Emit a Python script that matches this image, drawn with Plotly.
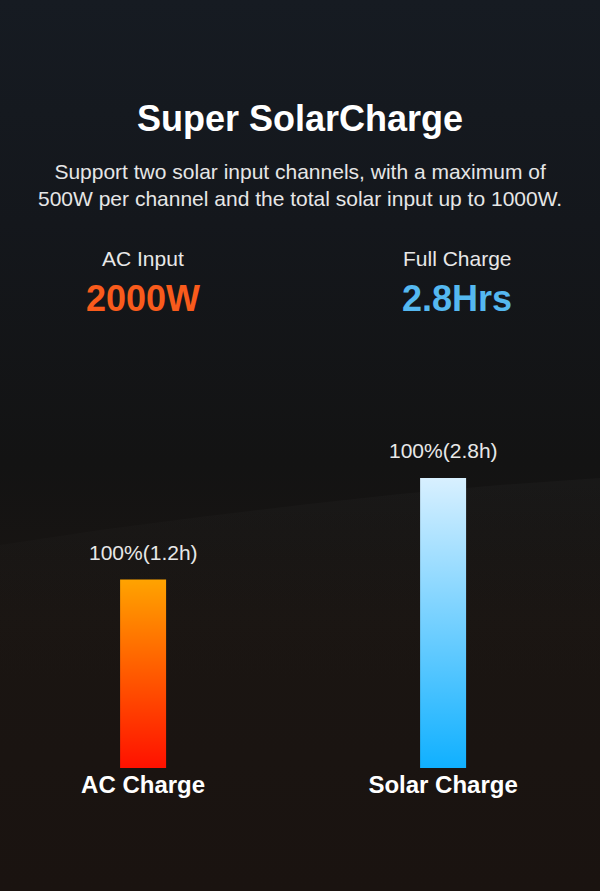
import plotly.graph_objects as go

W, H = 600, 891

# chart data
categories = ["AC Charge", "Solar Charge"]
bar_heights = [65, 100]                      # relative height, solar bar = 100
bar_labels = ["100%(1.2h)", "100%(2.8h)"]
bar_colors = [("#ff1100", "#ffa300"),        # bottom, top
              ("#10b0ff", "#d8f0ff")]

stat_names = ["AC Input", "Full Charge"]
stat_values = ["2000W", "2.8Hrs"]
stat_colors = ["#f95b1c", "#55b8f0"]

title = "Super SolarCharge"
subtitle = ("Support two solar input channels, with a maximum of<br>"
            "500W per channel and the total solar input up to 1000W.")

FONT = "Liberation Sans, Arial, sans-serif"


def py(px):
    # pixel row from top -> paper fraction
    return 1 - px / H


fig = go.Figure()

# background: vertical gradient over the whole page
fig.add_trace(go.Scatter(
    x=[0, 1, 1, 0, 0], y=[0, 0, 1, 1, 0],
    fill="toself", mode="lines", line=dict(width=0),
    fillgradient=dict(type="vertical", colorscale=[
        [0, "#1a1310"], [0.3, "#1a1512"], [0.48, "#131313"],
        [0.75, "#14171c"], [1, "#161b22"]]),
    hoverinfo="skip", showlegend=False))

# faint lighter hill behind the bars
arc_x = [0, 1/6, 2/6, 3/6, 4/6, 5/6, 1]
arc_y = [py(545), py(530), py(517), py(505), py(494), py(485), py(478)]
fig.add_trace(go.Scatter(
    x=arc_x + [1, 0, 0], y=arc_y + [py(680), py(680), arc_y[0]],
    fill="toself", mode="lines", line=dict(width=0),
    fillgradient=dict(type="vertical", colorscale=[
        [0, "rgba(40,36,32,0)"], [0.6, "rgba(44,42,40,0.1)"],
        [1, "rgba(48,48,48,0.18)"]]),
    hoverinfo="skip", showlegend=False))

# bars
half_w = 23 / 300
for i, (h, (c0, c1)) in enumerate(zip(bar_heights, bar_colors)):
    fig.add_trace(go.Scatter(
        x=[i - half_w, i + half_w, i + half_w, i - half_w, i - half_w],
        y=[0, 0, h, h, 0],
        fill="toself", mode="lines", line=dict(width=0),
        fillgradient=dict(type="vertical", colorscale=[[0, c0], [1, c1]]),
        xaxis="x2", yaxis="y2", hoverinfo="skip", showlegend=False))

annotations = [
    dict(text=title, x=0.5, y=py(118), font=dict(size=36, color="white", weight="bold")),
    dict(text=subtitle, x=0.5, y=py(185), font=dict(size=21, color="#e6e6e6")),
]
for name, val, col, cx in zip(stat_names, stat_values, stat_colors, [143, 457]):
    annotations.append(dict(text=name, x=cx / W, y=py(258),
                            font=dict(size=21, color="#e8e8e8")))
    annotations.append(dict(text=val, x=cx / W, y=py(298),
                            font=dict(size=36, color=col, weight="bold")))
for a in annotations:
    a.update(xref="paper", yref="paper", showarrow=False,
             xanchor="center", yanchor="middle")

for i, (h, lab) in enumerate(zip(bar_heights, bar_labels)):
    annotations.append(dict(text=lab, x=i, y=h, xref="x2", yref="y2",
                            showarrow=False, yanchor="bottom", yshift=14,
                            font=dict(size=21, color="#e8e8e8")))

fig.update_layout(
    width=W, height=H,
    margin=dict(l=0, r=0, t=0, b=0),
    paper_bgcolor="#141414",
    plot_bgcolor="rgba(0,0,0,0)",
    font=dict(family=FONT),
    showlegend=False,
    annotations=annotations,
    xaxis=dict(domain=[0, 1], range=[0, 1], visible=False),
    yaxis=dict(domain=[0, 1], range=[0, 1], visible=False),
    xaxis2=dict(domain=[0, 1], range=[-0.477, 1.523], anchor="y2",
                tickvals=[0, 1], ticktext=categories,
                tickfont=dict(size=24, color="white", weight="bold"),
                showgrid=False, zeroline=False, showline=False, ticks=""),
    yaxis2=dict(domain=[123 / H, 413 / H], range=[0, 100], anchor="x2",
                visible=False),
)

fig.write_html("out.html", config={"displayModeBar": False},
               post_script="document.body.style.margin='0';")
